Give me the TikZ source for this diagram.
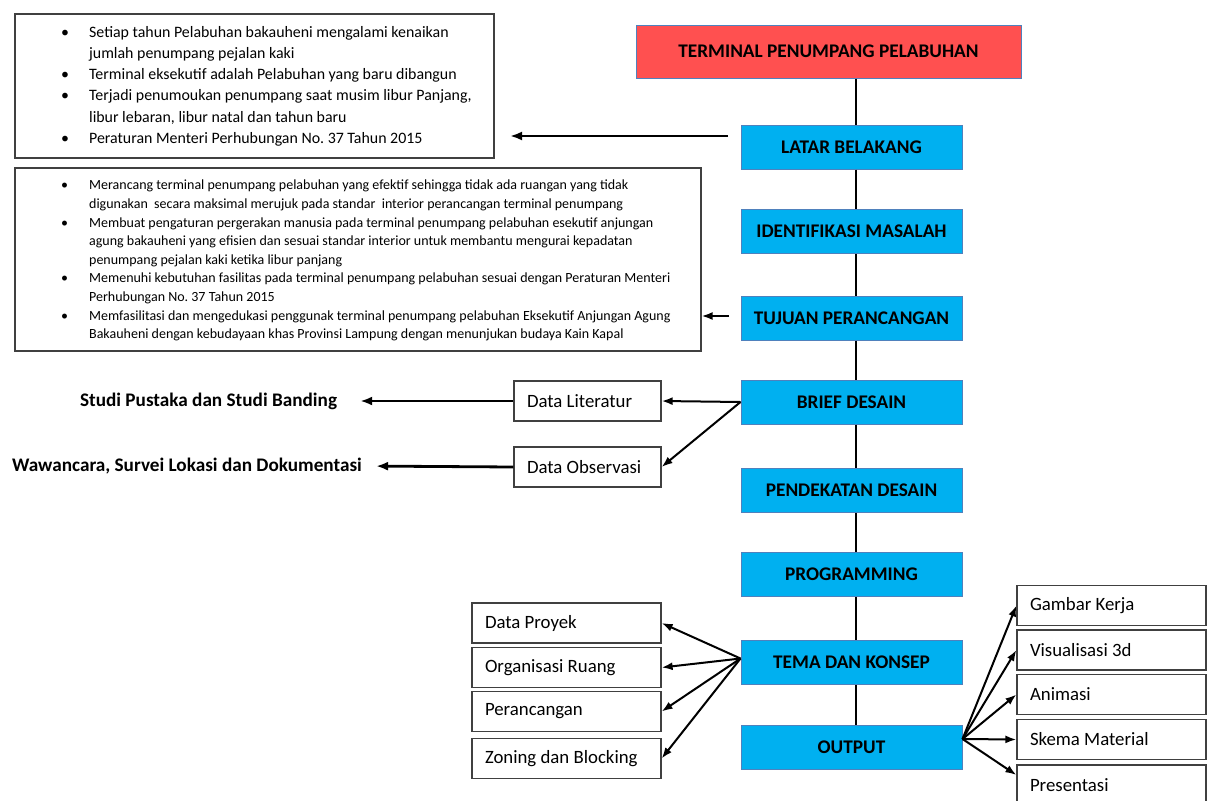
\documentclass[tikz,border=0pt]{standalone}
\usepackage{fontspec}
\setmainfont{Carlito}
\usetikzlibrary{arrows.meta,positioning}
\definecolor{boxred}{HTML}{FF5050}
\definecolor{boxblue}{HTML}{00B0F0}
\definecolor{boxedge}{HTML}{4F81BD}
\frenchspacing
\newcommand{\lefttext}[2]{\makebox[#1][l]{#2}}
\tikzset{
  mainbox/.style={draw=boxedge,fill=boxblue,line width=1pt,minimum width=221pt,minimum height=44pt,inner sep=0pt,font=\fontsize{19.3}{21}\selectfont\bfseries},
  topbox/.style={mainbox,fill=boxred,minimum width=385pt,minimum height=53pt},
  databox/.style={draw=black!75,line width=1.2pt,minimum height=40pt,minimum width=#1,inner sep=0pt,font=\fontsize{18.8}{21}\selectfont},
  notebox/.style={draw=black!75,line width=1.2pt,inner sep=0pt},
  sourcetext/.style={inner sep=0pt,font=\fontsize{19.2}{21}\selectfont\bfseries},
  spineline/.style={line width=2pt},
  link/.style={line width=2pt,-{Latex[length=11pt,width=8pt]}},
  biglink/.style={line width=2.8pt,-{Latex[length=12pt,width=9pt]}}
}
\begin{document}
\begin{tikzpicture}[x=1pt,y=-1pt]
  \useasboundingbox (0,0) rectangle (1211,801);
  \clip (0,0) rectangle (1211,801);
  % main column
  \node[topbox] (terminal) at (828.5,51.5) {TERMINAL PENUMPANG PELABUHAN};
  \node[mainbox] (latar) at (851.5,147) {LATAR BELAKANG};
  \node[mainbox] (identifikasi) at (851.5,231.5) {IDENTIFIKASI MASALAH};
  \node[mainbox] (tujuan) at (851.5,318) {TUJUAN PERANCANGAN};
  \node[mainbox] (brief) at (851.5,402) {BRIEF DESAIN};
  \node[mainbox] (pendekatan) at (851.5,490.5) {PENDEKATAN DESAIN};
  \node[mainbox] (programming) at (851.5,574.5) {PROGRAMMING};
  \node[mainbox] (tema) at (851.5,662.5) {TEMA DAN KONSEP};
  \node[mainbox] (output) at (851.5,747) {OUTPUT};
  \coordinate (spine) at (856,0);
  \foreach \a/\b in {terminal/latar,latar/identifikasi,identifikasi/tujuan,tujuan/brief,
    brief/pendekatan,pendekatan/programming,programming/tema,tema/output}
    \draw[spineline] (\a.south -| spine) -- (\b.north -| spine);
  % notes
  \node[notebox,minimum width=479pt,minimum height=144pt] (latarnote) at (254.5,86) {};
  \node[anchor=west,inner sep=0pt,font=\fontsize{15.9}{21.2}\selectfont] (latarlist) at (61,86) {%
    \begin{tabular}{@{}l@{\hspace{20pt}}l@{}}
      • & Setiap tahun Pelabuhan bakauheni mengalami kenaikan\\
        & jumlah penumpang pejalan kaki\\
      • & Terminal eksekutif adalah Pelabuhan yang baru dibangun\\
      • & Terjadi penumoukan penumpang saat musim libur Panjang,\\
        & libur lebaran, libur natal dan tahun baru\\
      • & Peraturan Menteri Perhubungan No. 37 Tahun 2015
    \end{tabular}};
  \node[notebox,minimum width=686pt,minimum height=183pt] (tujuannote) at (358,259.5) {};
  \node[anchor=west,inner sep=0pt,font=\fontsize{14}{18.6}\selectfont] (tujuanlist) at (61,260.5) {%
    \begin{tabular}{@{}l@{\hspace{21pt}}l@{}}
      • & Merancang terminal penumpang pelabuhan yang efektif sehingga tidak ada ruangan yang tidak\\
        & digunakan\ \ secara maksimal merujuk pada standar\ \ interior perancangan terminal penumpang\\
      • & Membuat pengaturan pergerakan manusia pada terminal penumpang pelabuhan esekutif anjungan\\
        & agung bakauheni yang efisien dan sesuai standar interior untuk membantu mengurai kepadatan\\
        & penumpang pejalan kaki ketika libur panjang\\
      • & Memenuhi kebutuhan fasilitas pada terminal penumpang pelabuhan sesuai dengan Peraturan Menteri\\
        & Perhubungan No. 37 Tahun 2015\\
      • & Memfasilitasi dan mengedukasi penggunak terminal penumpang pelabuhan Eksekutif Anjungan Agung\\
        & Bakauheni dengan kebudayaan khas Provinsi Lampung dengan menunjukan budaya Kain Kapal
    \end{tabular}};
  \coordinate (latarfrom) at (728,136);
  \coordinate (latartip) at (510,136);
  \draw[biglink] (latarfrom) -- (latartip);
  \coordinate (tujuanfrom) at (729,316);
  \draw[link] (tujuanfrom) -- (tujuannote.east |- tujuanfrom);
  % data
  \node[databox=147pt] (literatur) at (587.5,401) {\lefttext{121pt}{Data Literatur}};
  \node[databox=147pt] (observasi) at (587.5,467) {\lefttext{121pt}{Data Observasi}};
  \node[sourcetext] (pustaka) at (208.5,401) {Studi Pustaka dan Studi Banding};
  \node[sourcetext] (wawancara) at (187,466) {Wawancara, Survei Lokasi dan Dokumentasi};
  \draw[link] (brief.west) -- (literatur.east);
  \draw[link] (brief.west) -- (observasi.east);
  \draw[biglink,shorten >=23pt] (literatur.west) -- (pustaka.east);
  \draw[biglink,shorten >=14pt] (observasi.west) -- (wawancara.east);
  % tema
  \node[databox=189pt] (proyek) at (566.5,623) {\lefttext{163pt}{Data Proyek}};
  \node[databox=189pt] (organisasi) at (566.5,667.5) {\lefttext{163pt}{Organisasi Ruang}};
  \node[databox=189pt] (perancangan) at (566.5,711.5) {\lefttext{163pt}{Perancangan}};
  \node[databox=189pt] (zoning) at (566.5,758.5) {\lefttext{163pt}{Zoning dan Blocking}};
  \foreach \t in {proyek,organisasi,perancangan,zoning}
    \draw[link] ([yshift=4pt]tema.west) -- (\t.east);
  % output
  \node[databox=189pt] (gambar) at (1111.5,605.5) {\lefttext{163pt}{Gambar Kerja}};
  \node[databox=189pt] (visual) at (1111.5,650) {\lefttext{163pt}{Visualisasi 3d}};
  \node[databox=189pt] (animasi) at (1111.5,694.5) {\lefttext{163pt}{Animasi}};
  \node[databox=189pt] (skema) at (1111.5,739.5) {\lefttext{163pt}{Skema Material}};
  \node[databox=189pt] (presentasi) at (1111.5,785) {\lefttext{163pt}{Presentasi}};
  \foreach \t in {gambar,visual,animasi,skema}
    \draw[link] ([yshift=8pt]output.east) -- (\t.west);
  \draw[link] ([yshift=8pt]output.east) -- ([yshift=10pt]presentasi.west);
\end{tikzpicture}
\end{document}
